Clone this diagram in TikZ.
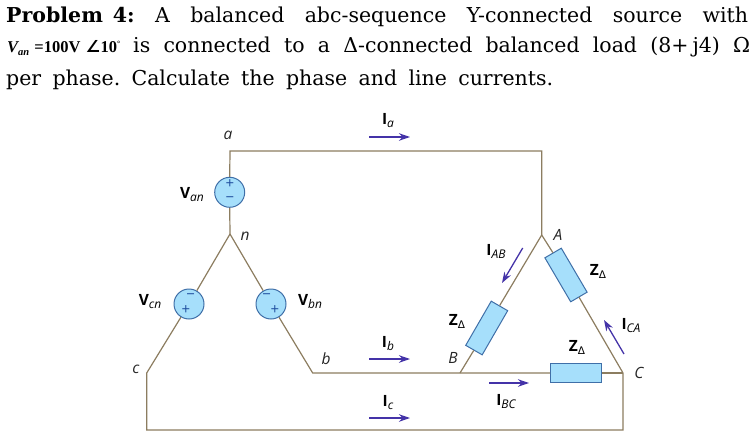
\documentclass[tikz,border=0pt]{standalone}
\usepackage{fontspec}
\usetikzlibrary{arrows.meta}
\setmainfont{DejaVu Serif}
\setsansfont{Open Sans}
\newfontfamily\timesf{Liberation Serif}
\newfontfamily\symf{DejaVu Sans}
\definecolor{wirecol}{HTML}{8C7D60}
\definecolor{arrowcol}{HTML}{4433A8}
\definecolor{fillcol}{HTML}{A6DFFB}
\definecolor{edgecol}{HTML}{3F6FA8}
\definecolor{signcol}{HTML}{1F4F9F}
\newcommand{\lbl}[2]{{\sffamily\fontsize{15.5}{15.5}\selectfont\bfseries #1\raisebox{-3pt}{\fontsize{12}{12}\selectfont\mdseries\itshape #2}}}
\newcommand{\zlbl}{{\sffamily\fontsize{15.5}{15.5}\selectfont\bfseries Z\raisebox{-3pt}{\fontsize{10.5}{10.5}\selectfont\mdseries\symf Δ}}}
\newcommand{\txtline}[2]{\hbox to #1{#2}}
\tikzset{
  wire/.style={draw=wirecol,line width=1.2pt},
  curr/.style={draw=arrowcol,line width=1.3pt,-{Stealth[length=11pt,width=7.5pt]}},
  source/.style={circle,draw=edgecol,fill=fillcol,line width=1pt,minimum size=30pt,inner sep=0pt},
  imp/.style={rectangle,draw=edgecol,fill=fillcol,line width=1pt,minimum width=51pt,minimum height=19pt,inner sep=0pt},
  sign/.style={text=signcol,font=\sffamily\fontsize{15}{15}\selectfont,inner sep=0pt},
  ital/.style={font=\sffamily\itshape\fontsize{15.5}{15.5}\selectfont,text=black!85,inner sep=0pt},
  tag/.style={inner sep=0pt},
  hdr/.style={anchor=base west,inner sep=0pt,font=\fontsize{20.5}{20.5}\selectfont},
}
\begin{document}
\begin{tikzpicture}[x=1pt,y=-1pt]
\useasboundingbox (0,0) rectangle (754,436);
% header
\node[hdr] (l1) at (6,23) {\txtline{742pt}{\textbf{Problem\hspace{10pt}4:}\hfill A\hfill balanced\hfill abc-sequence\hfill Y-connected\hfill source\hfill with}};
\node[hdr] (l2a) at (7,52.5) {\txtline{113pt}{\timesf\bfseries\fontsize{16.5}{16.5}\selectfont\textit{V\raisebox{-3pt}{\fontsize{10.5}{10.5}\selectfont an}}\hfill=100V\hfill{\itshape\symf ∠}10\raisebox{6pt}{\fontsize{8}{8}\selectfont°}}};
\node[hdr] (l2) at (133,52.5) {\txtline{617pt}{is\hfill connected\hfill to\hfill a\hfill Δ-connected\hfill balanced\hfill load\hfill (8+\hspace{4pt}j4)\hfill Ω}};
\node[hdr] (l3) at (6,85.5) {\txtline{547pt}{per\hfill phase.\hfill Calculate\hfill the\hfill phase\hfill and\hfill line\hfill currents.}};
% junctions
\coordinate (a) at (230,151);
\coordinate (n) at (230,234);
\coordinate (c) at (146.7,373);
\coordinate (b) at (312.7,373);
\coordinate (A) at (541.7,235);
\coordinate (Atop) at (541.7,151);
\coordinate (B) at (460,373);
\coordinate (C) at (623,373);
\coordinate (cb) at (146.7,430);
\coordinate (Cb) at (623,430);
% sources and impedances
\node[source] (van) at (229.7,192.3) {};
\node[source] (vcn) at (189,304) {};
\node[source] (vbn) at (271,304) {};
\node[imp,rotate=-59.6] (zca) at (566,275) {};
\node[imp,rotate=60] (zab) at (486.7,328) {};
\node[imp] (zbc) at (576,373) {};
% wires
\draw[wire] (van.south) -- (n);
\draw[wire] (van.north) -- (a) -- (Atop) -- (A);
\draw[wire] (n) -- (vcn);
\draw[wire] (n) -- (vbn);
\draw[wire] (vcn) -- (c) -- (cb) -- (Cb) -- (C);
\draw[wire] (vbn) -- (b) -- (zbc.west);
\draw[wire] (zbc.east) -- (C);
\draw[wire] (A) -- (zca.west);
\draw[wire] (zca.east) -- (C);
\draw[wire] (A) -- (zab.east);
\draw[wire] (zab.west) -- (B);
% signs
\node[sign] (vanp) at (230,184.5) {+};
\node[sign] (vanm) at (230,200) {−};
\node[sign] (vcnm) at (190.7,297) {−};
\node[sign] (vcnp) at (186,310) {+};
\node[sign] (vbnm) at (266.7,297) {−};
\node[sign] (vbnp) at (275,310) {+};
% current arrows
\coordinate (ia1) at (369,137); \coordinate (ia2) at (410,137);
\coordinate (ib1) at (369,359); \coordinate (ib2) at (410,359);
\coordinate (ic1) at (369,418); \coordinate (ic2) at (410,418);
\coordinate (ibc1) at (489,383); \coordinate (ibc2) at (529,383);
\coordinate (iab1) at (522.7,248); \coordinate (iab2) at (502,283);
\coordinate (ica1) at (624,354); \coordinate (ica2) at (604,320);
\draw[curr] (ia1) -- (ia2);
\draw[curr] (ib1) -- (ib2);
\draw[curr] (ic1) -- (ic2);
\draw[curr] (ibc1) -- (ibc2);
\draw[curr] (iab1) -- (iab2);
\draw[curr] (ica1) -- (ica2);
% labels
\node[ital] (ta) at (228,135) {a};
\node[ital] (tn) at (245,236) {n};
\node[ital] (tc) at (136,369) {c};
\node[ital] (tb) at (326,359) {b};
\node[ital] (tA) at (558,235) {A};
\node[ital] (tB) at (453,358) {B};
\node[ital] (tC) at (639,373) {C};
\node[tag] (lvan) at (192,195) {\lbl{V}{an}};
\node[tag] (lvcn) at (150,302) {\lbl{V}{cn}};
\node[tag] (lvbn) at (310,302) {\lbl{V}{bn}};
\node[tag] (lia) at (388,121) {\lbl{I}{a}};
\node[tag] (lib) at (388,344) {\lbl{I}{b}};
\node[tag] (lic) at (388,403) {\lbl{I}{c}};
\node[tag] (liab) at (496,251) {\lbl{I}{AB}};
\node[tag] (lica) at (631,326) {\lbl{I}{CA}};
\node[tag] (libc) at (506,402) {\lbl{I}{BC}};
\node[tag] (z1) at (598,271) {\zlbl};
\node[tag] (z2) at (457,321) {\zlbl};
\node[tag] (z3) at (577,347) {\zlbl};
\end{tikzpicture}
\end{document}
